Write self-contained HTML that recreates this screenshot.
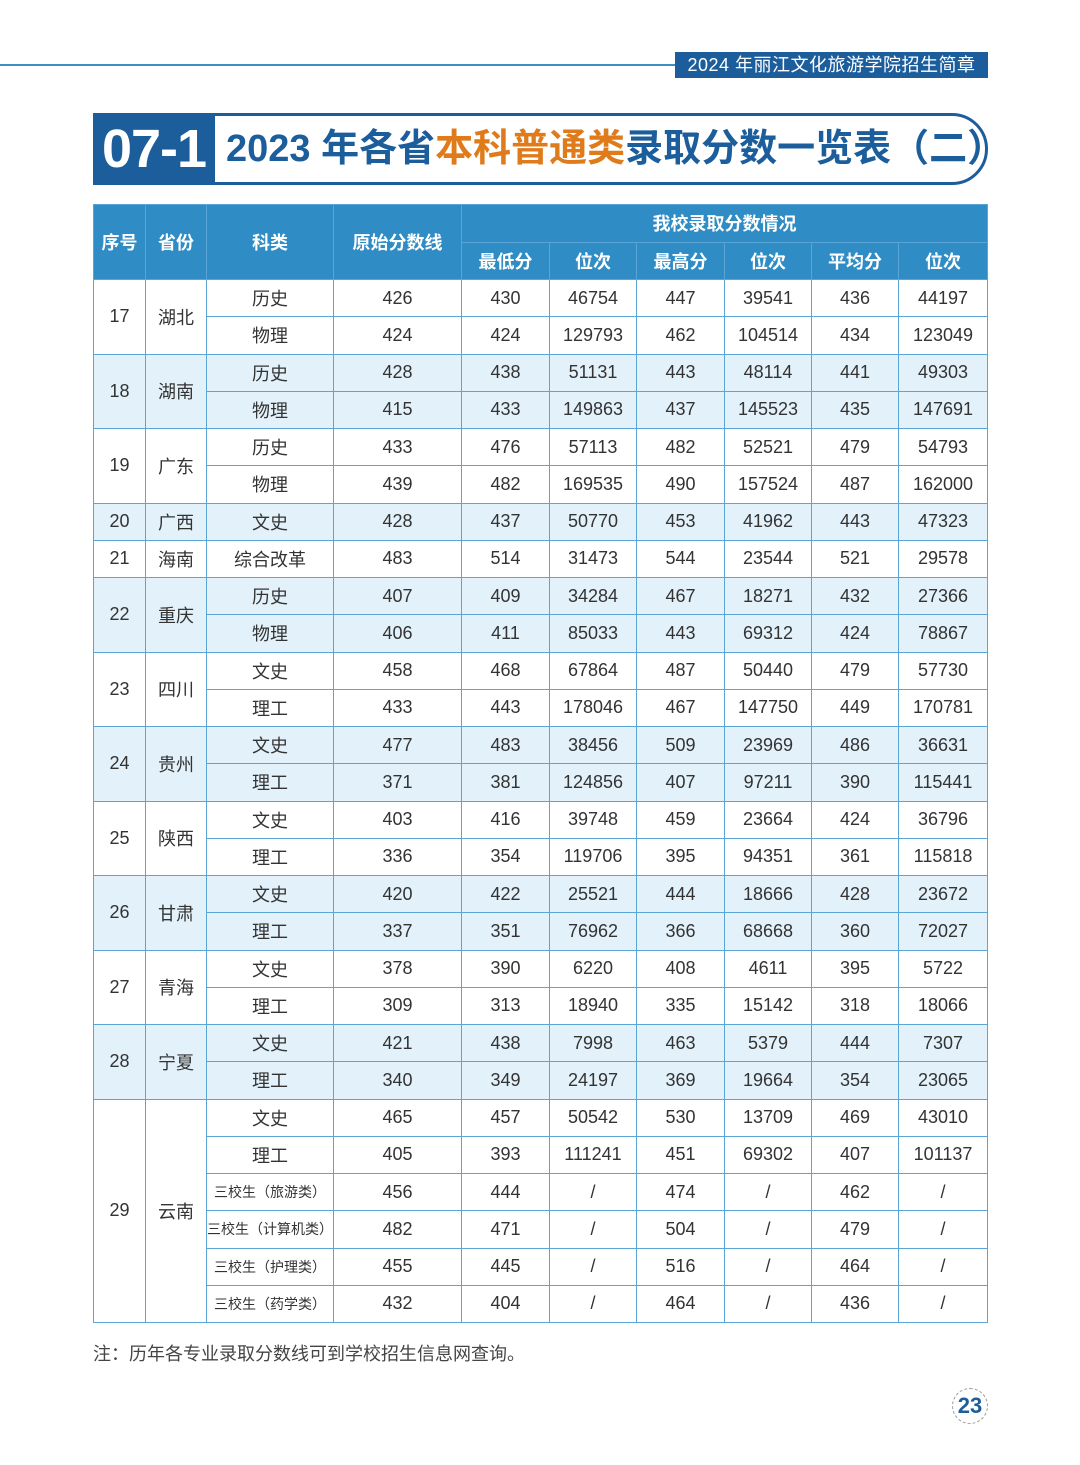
<!DOCTYPE html>
<html><head><meta charset="utf-8"><style>
*{margin:0;padding:0;box-sizing:border-box}
body{width:1080px;height:1465px;background:#fff;position:relative;font-family:"Liberation Sans","Noto Sans CJK SC",sans-serif;color:#333;overflow:hidden}
.hl{position:absolute;left:0;top:64px;width:680px;height:2px;background:#3d8fc4}
.hb{position:absolute;left:675px;top:52px;width:313px;height:26px;background:#1c5d9c;color:#fff;font-size:18px;line-height:26px;text-align:center;letter-spacing:0.5px}
.tbox{position:absolute;left:93px;top:113px;width:895px;height:72px;border:3px solid #1c5d9c;border-radius:0 36px 36px 0}
.tnum{position:absolute;left:93px;top:113px;width:122px;height:72px;background:#1c5d9c;color:#fff;font-weight:bold;font-size:54px;line-height:72px;text-align:center;letter-spacing:-1px}
.ttl{position:absolute;left:226px;top:113px;height:72px;line-height:72px;font-size:38px;font-weight:bold;color:#1c5d9c;white-space:nowrap}
.ttl span{color:#e07b1c}
table{position:absolute;left:93px;top:204px;width:894px;border-collapse:collapse;table-layout:fixed}
td,th{border:1.5px solid #5aa5d6;text-align:center;font-size:18px;padding:0;font-weight:normal}
th{background:#2f8cc4;color:#fff;font-weight:bold;height:37.5px}
tbody tr{height:37.25px}
.b td{background:#e3f1fa}
.s{font-size:14px;white-space:nowrap}
.note{position:absolute;left:93px;top:1340px;font-size:18px;color:#444}
.pg{position:absolute;left:952px;top:1388px;width:36px;height:36px;border:1px dashed #999;border-radius:50%;color:#1c5d9c;font-weight:bold;font-size:22px;line-height:34px;text-align:center}
</style></head><body>
<div class="hl"></div>
<div class="hb">2024 年丽江文化旅游学院招生简章</div>
<div class="tbox"></div>
<div class="tnum">07-1</div>
<div class="ttl">2023 年各省<span>本科普通类</span>录取分数一览表（二）</div>
<table>
<colgroup><col style="width:52px"><col style="width:61px"><col style="width:127px"><col style="width:128px"><col style="width:88px"><col style="width:87px"><col style="width:88px"><col style="width:87px"><col style="width:87px"><col style="width:89px"></colgroup>
<thead>
<tr><th rowspan="2">序号</th><th rowspan="2">省份</th><th rowspan="2">科类</th><th rowspan="2">原始分数线</th><th colspan="6">我校录取分数情况</th></tr>
<tr><th>最低分</th><th>位次</th><th>最高分</th><th>位次</th><th>平均分</th><th>位次</th></tr>
</thead>
<tbody>
<tr><td rowspan="2">17</td><td rowspan="2">湖北</td><td>历史</td><td>426</td><td>430</td><td>46754</td><td>447</td><td>39541</td><td>436</td><td>44197</td></tr>
<tr><td>物理</td><td>424</td><td>424</td><td>129793</td><td>462</td><td>104514</td><td>434</td><td>123049</td></tr>
<tr class="b"><td rowspan="2">18</td><td rowspan="2">湖南</td><td>历史</td><td>428</td><td>438</td><td>51131</td><td>443</td><td>48114</td><td>441</td><td>49303</td></tr>
<tr class="b"><td>物理</td><td>415</td><td>433</td><td>149863</td><td>437</td><td>145523</td><td>435</td><td>147691</td></tr>
<tr><td rowspan="2">19</td><td rowspan="2">广东</td><td>历史</td><td>433</td><td>476</td><td>57113</td><td>482</td><td>52521</td><td>479</td><td>54793</td></tr>
<tr><td>物理</td><td>439</td><td>482</td><td>169535</td><td>490</td><td>157524</td><td>487</td><td>162000</td></tr>
<tr class="b"><td>20</td><td>广西</td><td>文史</td><td>428</td><td>437</td><td>50770</td><td>453</td><td>41962</td><td>443</td><td>47323</td></tr>
<tr><td>21</td><td>海南</td><td>综合改革</td><td>483</td><td>514</td><td>31473</td><td>544</td><td>23544</td><td>521</td><td>29578</td></tr>
<tr class="b"><td rowspan="2">22</td><td rowspan="2">重庆</td><td>历史</td><td>407</td><td>409</td><td>34284</td><td>467</td><td>18271</td><td>432</td><td>27366</td></tr>
<tr class="b"><td>物理</td><td>406</td><td>411</td><td>85033</td><td>443</td><td>69312</td><td>424</td><td>78867</td></tr>
<tr><td rowspan="2">23</td><td rowspan="2">四川</td><td>文史</td><td>458</td><td>468</td><td>67864</td><td>487</td><td>50440</td><td>479</td><td>57730</td></tr>
<tr><td>理工</td><td>433</td><td>443</td><td>178046</td><td>467</td><td>147750</td><td>449</td><td>170781</td></tr>
<tr class="b"><td rowspan="2">24</td><td rowspan="2">贵州</td><td>文史</td><td>477</td><td>483</td><td>38456</td><td>509</td><td>23969</td><td>486</td><td>36631</td></tr>
<tr class="b"><td>理工</td><td>371</td><td>381</td><td>124856</td><td>407</td><td>97211</td><td>390</td><td>115441</td></tr>
<tr><td rowspan="2">25</td><td rowspan="2">陕西</td><td>文史</td><td>403</td><td>416</td><td>39748</td><td>459</td><td>23664</td><td>424</td><td>36796</td></tr>
<tr><td>理工</td><td>336</td><td>354</td><td>119706</td><td>395</td><td>94351</td><td>361</td><td>115818</td></tr>
<tr class="b"><td rowspan="2">26</td><td rowspan="2">甘肃</td><td>文史</td><td>420</td><td>422</td><td>25521</td><td>444</td><td>18666</td><td>428</td><td>23672</td></tr>
<tr class="b"><td>理工</td><td>337</td><td>351</td><td>76962</td><td>366</td><td>68668</td><td>360</td><td>72027</td></tr>
<tr><td rowspan="2">27</td><td rowspan="2">青海</td><td>文史</td><td>378</td><td>390</td><td>6220</td><td>408</td><td>4611</td><td>395</td><td>5722</td></tr>
<tr><td>理工</td><td>309</td><td>313</td><td>18940</td><td>335</td><td>15142</td><td>318</td><td>18066</td></tr>
<tr class="b"><td rowspan="2">28</td><td rowspan="2">宁夏</td><td>文史</td><td>421</td><td>438</td><td>7998</td><td>463</td><td>5379</td><td>444</td><td>7307</td></tr>
<tr class="b"><td>理工</td><td>340</td><td>349</td><td>24197</td><td>369</td><td>19664</td><td>354</td><td>23065</td></tr>
<tr><td rowspan="6">29</td><td rowspan="6">云南</td><td>文史</td><td>465</td><td>457</td><td>50542</td><td>530</td><td>13709</td><td>469</td><td>43010</td></tr>
<tr><td>理工</td><td>405</td><td>393</td><td>111241</td><td>451</td><td>69302</td><td>407</td><td>101137</td></tr>
<tr><td class="s">三校生（旅游类）</td><td>456</td><td>444</td><td>/</td><td>474</td><td>/</td><td>462</td><td>/</td></tr>
<tr><td class="s">三校生（计算机类）</td><td>482</td><td>471</td><td>/</td><td>504</td><td>/</td><td>479</td><td>/</td></tr>
<tr><td class="s">三校生（护理类）</td><td>455</td><td>445</td><td>/</td><td>516</td><td>/</td><td>464</td><td>/</td></tr>
<tr><td class="s">三校生（药学类）</td><td>432</td><td>404</td><td>/</td><td>464</td><td>/</td><td>436</td><td>/</td></tr>
</tbody></table>
<div class="note">注：历年各专业录取分数线可到学校招生信息网查询。</div>
<div class="pg">23</div>
</body></html>
